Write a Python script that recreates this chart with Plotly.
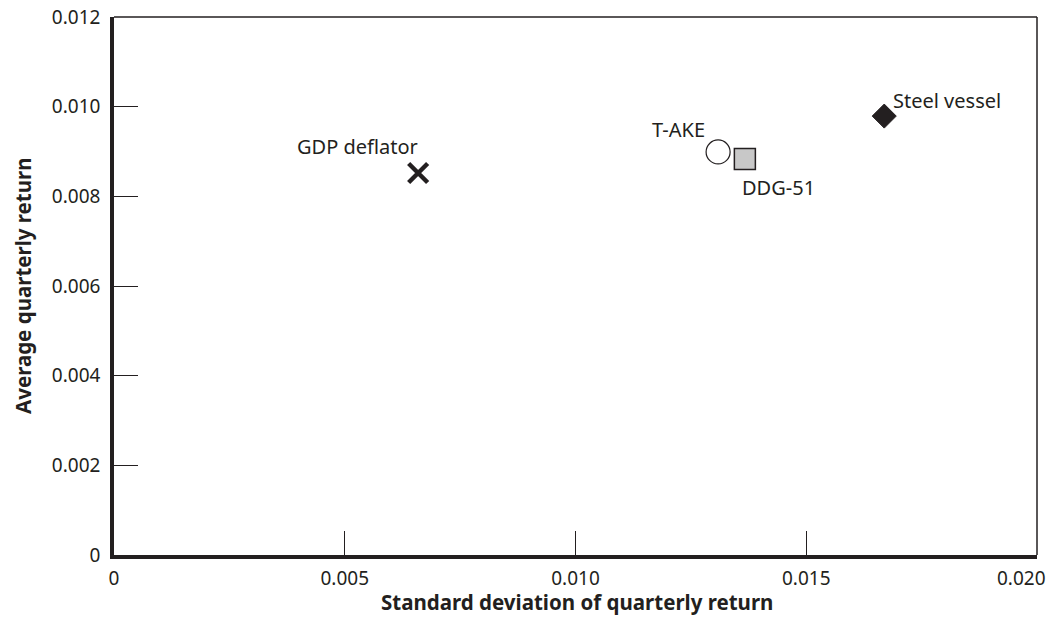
import plotly.graph_objects as go

names = ["GDP deflator", "T-AKE", "DDG-51", "Steel vessel"]
std_dev = [0.00659, 0.01309, 0.01367, 0.01669]
avg_ret = [0.00852, 0.00899, 0.00883, 0.00979]

x_ticks = [0, 0.005, 0.010, 0.015, 0.020]
x_tick_text = ["0", "0.005", "0.010", "0.015", "0.020"]
y_ticks = [0, 0.002, 0.004, 0.006, 0.008, 0.010, 0.012]
y_tick_text = ["0", "0.002", "0.004", "0.006", "0.008", "0.010", "0.012"]

INK = "#231f20"
FONT = "Noto Sans"

styles = [
    dict(symbol="x-thin", size=19, color=INK, line=dict(color=INK, width=4.5)),
    dict(symbol="circle", size=24, color="white", line=dict(color=INK, width=1.2)),
    dict(symbol="square", size=21, color="#c8c8c8", line=dict(color=INK, width=1.5)),
    dict(symbol="diamond", size=18.5, color=INK, line=dict(color=INK, width=1)),
]
label_pos = [
    dict(xanchor="right", yanchor="middle", xshift=2, yshift=27),
    dict(xanchor="right", yanchor="middle", xshift=-11, yshift=22),
    dict(xanchor="left", yanchor="middle", xshift=-5, yshift=-28),
    dict(xanchor="left", yanchor="middle", xshift=7, yshift=16),
]

fig = go.Figure()
for i in range(len(names)):
    fig.add_trace(go.Scatter(x=[std_dev[i]], y=[avg_ret[i]], mode="markers",
                             marker=styles[i], name=names[i], showlegend=False,
                             cliponaxis=False))
    fig.add_annotation(x=std_dev[i], y=avg_ret[i], text=names[i], showarrow=False,
                       font=dict(family=FONT, size=20, color=INK), **label_pos[i])

# last x tick label is pulled left so it stays inside the page, as in the original
shown_x_text = x_tick_text[:-1] + [""]

fig.update_layout(
    width=1049, height=616,
    margin=dict(l=106, r=20, t=9, b=69, autoexpand=False),
    plot_bgcolor="white", paper_bgcolor="white",
    font=dict(family=FONT, size=19, color=INK),
    xaxis=dict(range=[0, 0.020], tickvals=x_ticks, ticktext=shown_x_text,
               ticks="inside", ticklen=24, tickwidth=1.2, tickcolor=INK,
               showgrid=False, zeroline=False, showline=True, linewidth=3.5,
               linecolor=INK, automargin=False, ticklabelstandoff=3,
               ticklabeloverflow="allow"),
    yaxis=dict(range=[0, 0.012], tickvals=y_ticks, ticktext=y_tick_text,
               ticks="inside", ticklen=24, tickwidth=1.2, tickcolor=INK,
               showgrid=False, zeroline=False, showline=True, linewidth=3.5,
               linecolor=INK, automargin=False, ticklabelstandoff=6,
               ticklabeloverflow="allow"),
)
fig.add_annotation(x=x_ticks[-1], yref="paper", y=0, yshift=-23, xshift=11,
                   xanchor="right", yanchor="middle", showarrow=False,
                   text=x_tick_text[-1], font=dict(family=FONT, size=19, color=INK))
fig.add_annotation(xref="paper", yref="paper", x=0.5017, y=0, yshift=-47,
                   xanchor="center", yanchor="middle", showarrow=False,
                   text="<b>Standard deviation of quarterly return</b>",
                   font=dict(family=FONT, size=20.5, color=INK))
fig.add_annotation(xref="paper", yref="paper", x=0, xshift=-91, y=0.5,
                   xanchor="center", yanchor="middle", showarrow=False, textangle=-90,
                   text="<b>Average quarterly return</b>",
                   font=dict(family=FONT, size=20.5, color=INK))
fig.add_shape(type="line", xref="paper", yref="paper", x0=0, x1=1, y0=1, y1=1,
              line=dict(color=INK, width=1.5))
fig.add_shape(type="line", xref="paper", yref="paper", x0=1, x1=1, y0=0, y1=1,
              line=dict(color=INK, width=1.5))

fig.write_html("out.html")
